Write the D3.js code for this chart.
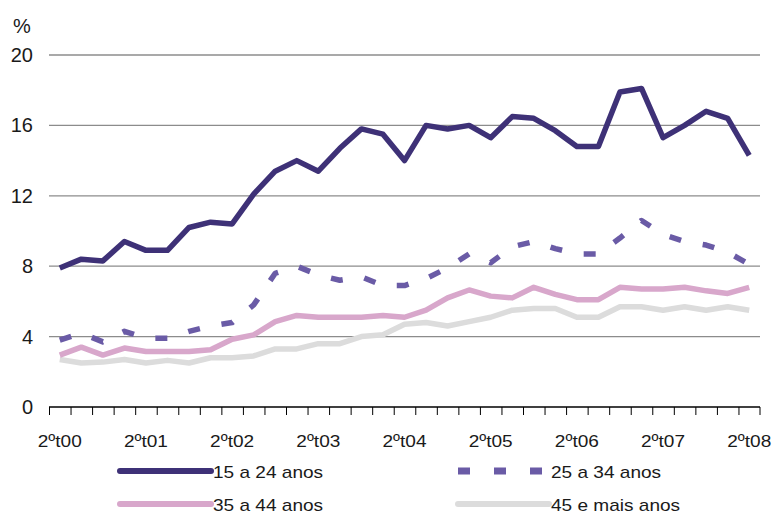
<!DOCTYPE html>
<html>
<head>
<meta charset="utf-8">
<script src="https://cdn.jsdelivr.net/npm/d3@7"></script>
<style>
	body { margin: 0; background: #fff; }
	text { font-family: "Liberation Sans", Arial, sans-serif; fill: #1a1a1a; }
</style>
</head>
<body>
<div id="chart"></div>
<script>
// quarters, 2nd quarter 2000 -> 2nd quarter 2008
var quarters = ["2ºt00","3ºt00","4ºt00","1ºt01","2ºt01","3ºt01","4ºt01","1ºt02","2ºt02","3ºt02","4ºt02",
	"1ºt03","2ºt03","3ºt03","4ºt03","1ºt04","2ºt04","3ºt04","4ºt04","1ºt05","2ºt05","3ºt05","4ºt05",
	"1ºt06","2ºt06","3ºt06","4ºt06","1ºt07","2ºt07","3ºt07","4ºt07","1ºt08","2ºt08"];
var tickLabels = ["2ºt00","2ºt01","2ºt02","2ºt03","2ºt04","2ºt05","2ºt06","2ºt07","2ºt08"];
var yTicks = [0, 4, 8, 12, 16, 20];

var names = ["15 a 24 anos", "25 a 34 anos", "35 a 44 anos", "45 e mais anos"];
var age15 = [7.9,8.4,8.3,9.4,8.9,8.9,10.2,10.5,10.4,12.1,13.4,14.0,13.4,14.7,15.8,15.5,14.0,16.0,15.8,16.0,15.3,16.5,16.4,15.7,14.8,14.8,17.9,18.1,15.3,16.0,16.8,16.4,14.3];
var age25 = [3.8,4.2,3.7,4.3,3.9,3.9,4.3,4.6,4.8,5.8,7.6,8.0,7.5,7.2,7.4,6.9,6.9,7.3,7.9,8.7,8.2,9.1,9.4,9.0,8.7,8.7,9.6,10.6,9.8,9.4,9.2,8.8,8.1];
var age35 = [2.95,3.4,2.95,3.35,3.15,3.15,3.15,3.25,3.85,4.1,4.85,5.2,5.1,5.1,5.1,5.2,5.1,5.5,6.2,6.65,6.3,6.2,6.8,6.4,6.1,6.1,6.8,6.7,6.7,6.8,6.6,6.45,6.8];
var age45 = [2.7,2.5,2.55,2.7,2.5,2.65,2.5,2.8,2.8,2.9,3.3,3.3,3.6,3.6,4.0,4.1,4.7,4.8,4.6,4.85,5.1,5.5,5.6,5.6,5.1,5.1,5.7,5.7,5.5,5.7,5.5,5.7,5.5];

var w = 774, h = 516;
var plotLeft = 49, plotRight = 760, plotTop = 55, plotBottom = 407;

var svg = d3.select("#chart").append("svg")
	.attr("width", w)
	.attr("height", h);

var x = d3.scaleBand().domain(quarters).range([plotLeft, plotRight]).padding(0);
var y = d3.scaleLinear().domain([0, 20]).range([plotBottom, plotTop]);

// horizontal grid
svg.selectAll(".grid")
	.data(yTicks.filter(function(d) { return d > 0; }))
	.enter().append("line")
	.attr("x1", plotLeft).attr("x2", plotRight)
	.attr("y1", function(d) { return y(d); })
	.attr("y2", function(d) { return y(d); })
	.attr("stroke", "#8c8c8c")
	.attr("stroke-width", 1.3);

// y labels
svg.selectAll(".ylab")
	.data(yTicks)
	.enter().append("text")
	.attr("x", 33)
	.attr("y", function(d) { return y(d) + 7; })
	.attr("text-anchor", "end")
	.attr("font-size", "20px")
	.text(function(d) { return d; });

svg.append("text")
	.attr("x", 13).attr("y", 33)
	.attr("font-size", "20px")
	.text("%");

// x axis with ticks at quarter boundaries
var xAxis = d3.axisBottom(x).tickSize(8).tickFormat("");
var gx = svg.append("g")
	.attr("transform", "translate(0," + plotBottom + ")")
	.call(xAxis);
gx.select(".domain").remove();
gx.selectAll(".tick").attr("transform", function(d) { return "translate(" + (x(d) + 0.5) + ",0)"; });
gx.append("line").attr("x1", plotLeft).attr("x2", plotRight).attr("stroke", "#000").attr("stroke-width", 1.3);
gx.append("line").attr("x1", plotRight).attr("x2", plotRight).attr("y2", 8).attr("stroke", "#000");
gx.selectAll(".tick line").attr("stroke", "#000");

// stretched text helper (the source is a bit wide)
function stretch(sel, k) {
	sel.each(function() {
		var len = this.getComputedTextLength();
		d3.select(this).attr("textLength", len * k).attr("lengthAdjust", "spacingAndGlyphs");
	});
}

svg.selectAll(".xlab")
	.data(tickLabels)
	.enter().append("text")
	.attr("x", function(d) { return x(d) + x.bandwidth() / 2; })
	.attr("y", 447)
	.attr("text-anchor", "middle")
	.attr("font-size", "17px")
	.text(function(d) { return d; })
	.call(stretch, 1.12);

var series = [
	{ name: names[3], values: age45, color: "#dcdcdc", dash: null },
	{ name: names[2], values: age35, color: "#d8a7cb", dash: null },
	{ name: names[1], values: age25, color: "#6a5ba6", dash: "12,22" },
	{ name: names[0], values: age15, color: "#3e3177", dash: null }
];

var line = d3.line()
	.x(function(d, i) { return x(quarters[i]) + x.bandwidth() / 2; })
	.y(function(d) { return y(d); });

svg.selectAll(".serie")
	.data(series)
	.enter().append("path")
	.attr("d", function(d) { return line(d.values); })
	.attr("fill", "none")
	.attr("stroke", function(d) { return d.color; })
	.attr("stroke-width", 5.5)
	.attr("stroke-linejoin", "round")
	.attr("stroke-dasharray", function(d) { return d.dash; });

// legend
var legend = [
	{ s: series[3], lx: 120, ly: 471 },
	{ s: series[2], lx: 458, ly: 471 },
	{ s: series[1], lx: 120, ly: 504 },
	{ s: series[0], lx: 458, ly: 504 }
];

var lg = svg.selectAll(".leg")
	.data(legend)
	.enter().append("g");

lg.append("line")
	.attr("x1", function(d) { return d.lx; })
	.attr("x2", function(d) { return d.lx + 91; })
	.attr("y1", function(d) { return d.ly; })
	.attr("y2", function(d) { return d.ly; })
	.attr("stroke", function(d) { return d.s.color; })
	.attr("stroke-width", function(d) { return d.s.dash ? 7 : 6; })
	.attr("stroke-linecap", function(d) { return d.s.dash ? "butt" : "round"; })
	.attr("stroke-dasharray", function(d) { return d.s.dash ? "12,24" : null; });

lg.append("text")
	.attr("x", function(d) { return d.lx + 93; })
	.attr("y", function(d) { return d.ly + 7; })
	.attr("font-size", "17px")
	.text(function(d) { return d.s.name; })
	.call(stretch, 1.12);
</script>
</body>
</html>
